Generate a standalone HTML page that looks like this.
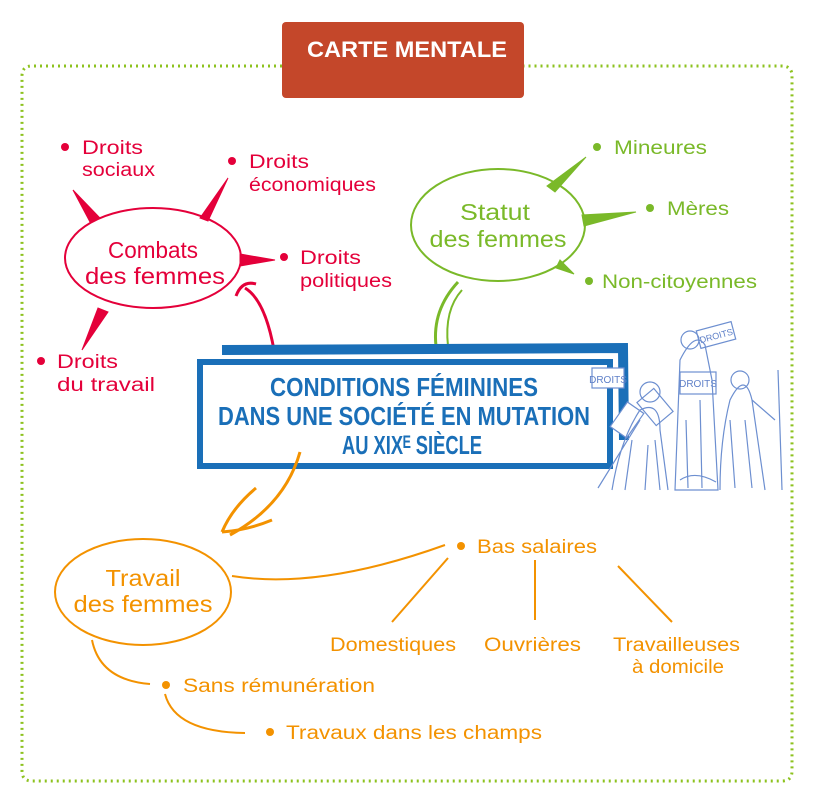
<!DOCTYPE html>
<html><head><meta charset="utf-8"><style>
html,body{margin:0;padding:0;background:#fff;}
svg{display:block;}
text{font-family:"Liberation Sans",sans-serif;}
</style></head><body>
<svg width="814" height="806" viewBox="0 0 814 806" xmlns="http://www.w3.org/2000/svg">
<!-- dotted frame -->
<path d="M282 66 L32 66 Q22 66 22 76 L22 771 Q22 781 32 781 L782 781 Q792 781 792 771 L792 76 Q792 66 782 66 L524 66" fill="none" stroke="#8dc21f" stroke-width="3" stroke-dasharray="2 4"/>
<!-- title -->
<rect x="282" y="22" width="242" height="76" rx="4" fill="#c4472a"/>
<text x="407" y="57" text-anchor="middle" font-size="22" font-weight="bold" fill="#fff" textLength="200" lengthAdjust="spacingAndGlyphs">CARTE MENTALE</text>

<!-- Combats -->
<g stroke="#e4003a" fill="#e4003a">
<ellipse cx="153" cy="258" rx="88" ry="50" fill="none" stroke-width="2"/>
<path d="M73 190 L90 222 L100 218 Z"/>
<path d="M228 178 L200 218 L208 221 Z"/>
<path d="M275 260 L240 254 L240 266 Z"/>
<path d="M82 350 L98 308 L108 312 Z"/>
<path d="M274 350 Q265 300 245 288" fill="none" stroke-width="3"/>
<path d="M236 296 Q242 280 256 284" fill="none" stroke-width="3"/>
</g>
<g fill="#e4003a" font-size="19" lengthAdjust="spacingAndGlyphs">
<text x="153" y="258" text-anchor="middle" font-size="23" textLength="90" lengthAdjust="spacingAndGlyphs">Combats</text>
<text x="155" y="284" text-anchor="middle" font-size="23" textLength="140" lengthAdjust="spacingAndGlyphs">des femmes</text>
<circle cx="65" cy="147" r="4"/><text x="82" y="154" textLength="61" lengthAdjust="spacingAndGlyphs">Droits</text><text x="82" y="176" textLength="73" lengthAdjust="spacingAndGlyphs">sociaux</text>
<circle cx="232" cy="161" r="4"/><text x="249" y="168" textLength="60" lengthAdjust="spacingAndGlyphs">Droits</text><text x="249" y="191" textLength="127" lengthAdjust="spacingAndGlyphs">économiques</text>
<circle cx="284" cy="257" r="4"/><text x="300" y="264" textLength="61" lengthAdjust="spacingAndGlyphs">Droits</text><text x="300" y="287" textLength="92" lengthAdjust="spacingAndGlyphs">politiques</text>
<circle cx="41" cy="361" r="4"/><text x="57" y="368" textLength="61" lengthAdjust="spacingAndGlyphs">Droits</text><text x="57" y="391" textLength="98" lengthAdjust="spacingAndGlyphs">du travail</text>
</g>

<!-- Statut -->
<g stroke="#7ab929" fill="#7ab929">
<ellipse cx="498" cy="225" rx="87" ry="56" fill="none" stroke-width="2"/>
<path d="M586 157 L547 186 L555 192 Z"/>
<path d="M636 212 L582 215 L584 226 Z"/>
<path d="M574 274 L560 260 L556 268 Z"/>
<path d="M436 346 Q432 310 458 282" fill="none" stroke-width="3"/>
<path d="M448 346 Q444 310 462 290" fill="none" stroke-width="2"/>
</g>
<g fill="#7ab929" font-size="19">
<text x="495" y="220" text-anchor="middle" font-size="23" textLength="70" lengthAdjust="spacingAndGlyphs">Statut</text>
<text x="498" y="247" text-anchor="middle" font-size="23" textLength="137" lengthAdjust="spacingAndGlyphs">des femmes</text>
<circle cx="597" cy="147" r="4"/><text x="614" y="154" textLength="93" lengthAdjust="spacingAndGlyphs">Mineures</text>
<circle cx="650" cy="208" r="4"/><text x="667" y="215" textLength="62" lengthAdjust="spacingAndGlyphs">Mères</text>
<circle cx="589" cy="281" r="4"/><text x="602" y="288" textLength="155" lengthAdjust="spacingAndGlyphs">Non-citoyennes</text>
</g>

<!-- central box -->
<path d="M222 350 L623 348 L624 440" fill="none" stroke="#1a6fb8" stroke-width="10"/>
<rect x="200" y="362" width="410" height="104" fill="#fff" stroke="#1a6fb8" stroke-width="6"/>
<g fill="#1a6fb8" font-weight="bold" text-anchor="middle">
<text x="404" y="396" font-size="26" textLength="268" lengthAdjust="spacingAndGlyphs">CONDITIONS FÉMININES</text>
<text x="404" y="425" font-size="26" textLength="372" lengthAdjust="spacingAndGlyphs">DANS UNE SOCIÉTÉ EN MUTATION</text>
<text x="412" y="454" font-size="26" textLength="140" lengthAdjust="spacingAndGlyphs">AU XIXᴱ SIÈCLE</text>
</g>

<!-- illustration -->
<g stroke="#6d8fd0" stroke-width="1.2" fill="none">
<rect x="592" y="368" width="32" height="20" fill="#fff"/>
<text x="608" y="383" font-size="10" fill="#5f80c8" stroke="none" text-anchor="middle">DROITS</text>
<rect x="680" y="372" width="36" height="22" fill="#fff"/>
<text x="698" y="387" font-size="10" fill="#5f80c8" stroke="none" text-anchor="middle">DROITS</text>
<rect x="698" y="326" width="36" height="18" fill="#fff" transform="rotate(-15 716 335)"/>
<text x="716" y="339" font-size="9" fill="#5f80c8" stroke="none" text-anchor="middle" transform="rotate(-15 716 335)">DROITS</text>
<rect x="640" y="396" width="30" height="22" fill="#fff" transform="rotate(50 655 407)"/>
<rect x="612" y="410" width="30" height="20" fill="#fff" transform="rotate(-55 627 420)"/>
<path d="M598 488 L640 420 M612 490 Q620 440 640 410 Q660 400 660 430 L668 490"/>
<path d="M625 490 L632 440 M645 490 L648 445 M655 440 L660 490"/>
<circle cx="650" cy="392" r="10"/>
<path d="M675 490 L680 360 Q695 330 705 345 L712 380 L718 490 Z"/>
<path d="M686 420 L688 488 M700 400 L702 488 M680 480 Q695 470 716 482"/>
<circle cx="690" cy="340" r="9"/>
<path d="M720 490 Q720 440 730 400 Q745 370 752 400 L765 490"/>
<path d="M730 420 L735 488 M745 420 L752 488 M752 400 L775 420"/>
<circle cx="740" cy="380" r="9"/>
<path d="M778 370 L782 490"/>
</g>

<!-- Travail -->
<g stroke="#f39200" fill="none" stroke-width="2">
<ellipse cx="143" cy="592" rx="88" ry="53"/>
<path d="M300 452 Q285 505 230 535" stroke-width="3"/>
<path d="M222 532 Q232 508 256 488 M222 532 Q248 530 272 520" stroke-width="3"/>
<path d="M232 576 Q320 590 445 545"/>
<path d="M448 558 L392 622"/>
<path d="M535 560 L535 620"/>
<path d="M618 566 L672 622"/>
<path d="M92 640 Q100 680 150 684"/>
<path d="M165 694 Q175 732 245 733"/>
</g>
<g fill="#f39200" font-size="19">
<text x="143" y="586" text-anchor="middle" font-size="23" textLength="75" lengthAdjust="spacingAndGlyphs">Travail</text>
<text x="143" y="612" text-anchor="middle" font-size="23" textLength="139" lengthAdjust="spacingAndGlyphs">des femmes</text>
<circle cx="461" cy="546" r="4"/><text x="477" y="553" textLength="120" lengthAdjust="spacingAndGlyphs">Bas salaires</text>
<text x="330" y="651" textLength="126" lengthAdjust="spacingAndGlyphs">Domestiques</text>
<text x="484" y="651" textLength="97" lengthAdjust="spacingAndGlyphs">Ouvrières</text>
<text x="613" y="651" textLength="127" lengthAdjust="spacingAndGlyphs">Travailleuses</text>
<text x="632" y="673" textLength="92" lengthAdjust="spacingAndGlyphs">à domicile</text>
<circle cx="166" cy="685" r="4"/><text x="183" y="692" textLength="192" lengthAdjust="spacingAndGlyphs">Sans rémunération</text>
<circle cx="270" cy="732" r="4"/><text x="286" y="739" textLength="256" lengthAdjust="spacingAndGlyphs">Travaux dans les champs</text>
</g>
</svg>
</body></html>
